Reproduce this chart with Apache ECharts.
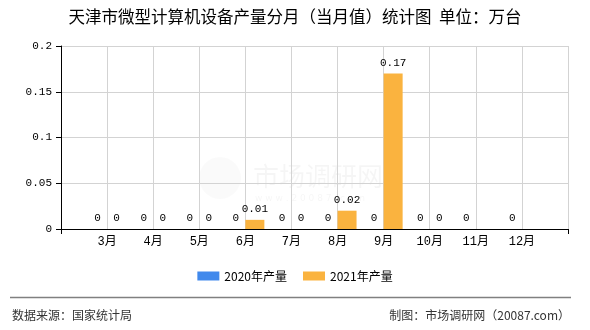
<!DOCTYPE html>
<html>
<head>
<meta charset="utf-8">
<script src="https://cdn.jsdelivr.net/npm/echarts@6/dist/echarts.min.js"></script>
<style>
html,body{margin:0;padding:0;background:#fff;}
#chart{width:590px;height:330px;}
</style>
</head>
<body>
<div id="chart"></div>
<script>
var categories = ['', '3月', '4月', '5月', '6月', '7月', '8月', '9月', '10月', '11月', '12月', ''];
var values2020 = [null, 0, 0, 0, 0, 0, 0, 0, 0, 0, 0, null];
var values2021 = [null, 0, 0, 0, 0.01, 0, 0.02, 0.17, 0, null, null, null];
var seriesNames = ['2020年产量', '2021年产量'];
var yMin = 0, yMax = 0.2, yStep = 0.05;

var numFont = "'Liberation Mono', 'Noto Sans CJK SC', monospace";
var cjkFont = "'Noto Sans CJK SC', sans-serif";

var chart = echarts.init(document.getElementById('chart'), null, {renderer: 'canvas'});
var lastIdx = categories.length - 1;

chart.setOption({
  animation: false,
  backgroundColor: '#fff',
  title: {
    text: '天津市微型计算机设备产量分月（当月值）统计图  单位：万台',
    left: 'center',
    top: 8,
    padding: 0,
    textStyle: {fontFamily: cjkFont, fontSize: 16.5, fontWeight: 'normal', color: '#000'}
  },
  legend: {
    data: seriesNames,
    left: 'center',
    top: 270,
    padding: 0,
    itemWidth: 22,
    itemHeight: 9,
    itemGap: 16,
    icon: 'rect',
    textStyle: {fontFamily: cjkFont, fontSize: 12, color: '#000'}
  },
  grid: {left: 61, right: 22, top: 46, bottom: 101, containLabel: false},
  xAxis: {
    type: 'category',
    data: categories,
    boundaryGap: false,
    axisLine: {lineStyle: {color: '#000', width: 1}},
    axisTick: {show: true, length: 5, lineStyle: {color: '#000'},
      interval: function (i) { return i === 0 || i === lastIdx; }},
    axisLabel: {interval: 0, margin: 7, fontFamily: numFont, fontSize: 12, color: '#000'},
    splitLine: {show: true, interval: 0, lineStyle: {color: '#d3d3d3', width: 1}}
  },
  yAxis: {
    type: 'value',
    min: yMin, max: yMax, interval: yStep,
    axisLine: {show: true, lineStyle: {color: '#000', width: 1}},
    axisTick: {show: true, length: 5, lineStyle: {color: '#000'}},
    axisLabel: {margin: 9, fontFamily: numFont, fontSize: 11, color: '#000'},
    splitLine: {show: true, lineStyle: {color: '#d3d3d3', width: 1}}
  },
  series: [
    {
      name: seriesNames[0], type: 'bar', data: values2020,
      barWidth: 19, barGap: '0%',
      itemStyle: {color: '#4189EC'},
      label: {show: true, position: 'top', distance: 5, fontFamily: numFont, fontSize: 11, color: '#000'}
    },
    {
      name: seriesNames[1], type: 'bar', data: values2021,
      barWidth: 19, barGap: '0%',
      itemStyle: {color: '#FAB33F'},
      label: {show: true, position: 'top', distance: 5, fontFamily: numFont, fontSize: 11, color: '#000'}
    }
  ],
  graphic: [
    {type: 'circle', silent: true, z: -1, shape: {cx: 220, cy: 178, r: 21}, style: {fill: 'rgba(0,0,0,0.02)'}},
    {type: 'text', silent: true, z: -1, left: 253, top: 163,
      style: {text: '市场调研网', font: "26px 'Noto Sans CJK SC'", fill: 'rgba(0,0,0,0.04)'}},
    {type: 'text', silent: true, z: -1, left: 255, top: 194,
      style: {text: 'w w w . 2 0 0 8 7 . c o m', font: "9px 'DejaVu Sans'", fill: 'rgba(0,0,0,0.04)'}},
    {type: 'line', silent: true, shape: {x1: 10, y1: 297.5, x2: 571, y2: 297.5},
      style: {stroke: '#808080', lineWidth: 1.5}},
    {type: 'text', silent: true, left: 12, top: 309,
      style: {text: '数据来源：国家统计局', font: "12px 'Noto Sans CJK SC'", fill: '#333'}},
    {type: 'text', silent: true, right: 20, top: 309,
      style: {text: '制图：市场调研网（20087.com）', font: "12px 'Noto Sans CJK SC'", fill: '#333'}}
  ]
});
</script>
</body>
</html>
